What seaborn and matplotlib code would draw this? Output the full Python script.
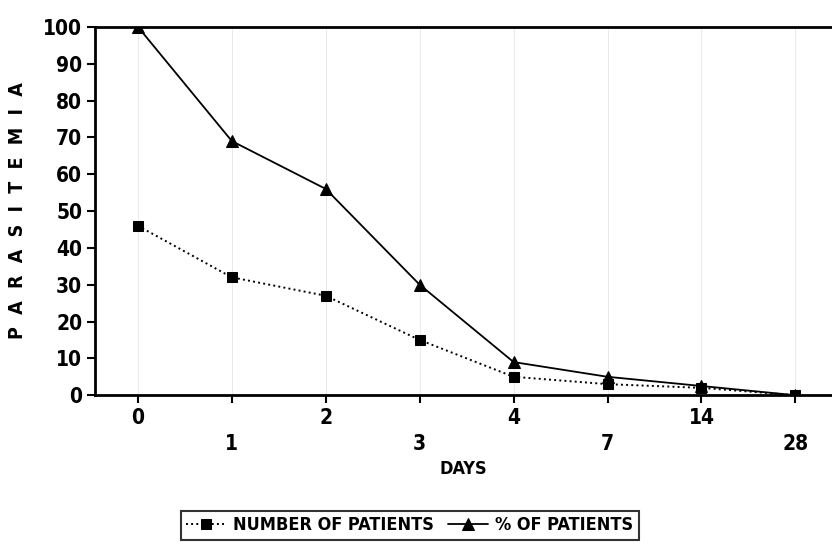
import numpy as np
import pandas as pd
import seaborn as sns
import matplotlib.pyplot as plt

sns.set_theme(style="white")
plt.rcParams['font.family'] = ['DejaVu Sans']
plt.rcParams['font.stretch'] = 'condensed'
plt.rcParams['text.color'] = 'black'
plt.rcParams['xtick.color'] = 'black'
plt.rcParams['ytick.color'] = 'black'
plt.rcParams['axes.labelcolor'] = 'black'

days = ["0", "1", "2", "3", "4", "7", "14", "28"]
number_of_patients = [46, 32, 27, 15, 5, 3, 2, 0]
pct_of_patients = [100, 69, 56, 30, 9, 5, 2.5, 0]

pos = np.arange(len(days))
data = pd.DataFrame({"pos": pos, "number": number_of_patients, "pct": pct_of_patients})

fig = plt.figure(figsize=(8.32, 5.59), dpi=100)
ax = fig.add_axes([0.114, 0.293, 0.886, 0.659])

sns.lineplot(data=data, x="pos", y="number", ax=ax, color="black", linestyle=":",
             linewidth=1.4, marker="s", markersize=7, markeredgecolor="black",
             label="NUMBER OF PATIENTS")
sns.lineplot(data=data, x="pos", y="pct", ax=ax, color="black", linestyle="-",
             linewidth=1.3, marker="^", markersize=9, markeredgecolor="black",
             label="% OF PATIENTS")

ax.set_xlim(-0.458, 7.39)
ax.set_ylim(0, 100)
ax.set_yticks(range(0, 101, 10))
ax.set_yticklabels([str(v) for v in range(0, 101, 10)], fontsize=15, fontweight="bold")
ax.set_xticks(pos)
ax.set_xticklabels([d if i % 2 == 0 else "\n" + d for i, d in enumerate(days)],
                   fontsize=15, fontweight="bold", linespacing=1.4)
ax.tick_params(axis="both", direction="out", length=6, width=1.5, color="black",
               left=True, bottom=True, pad=3)
ax.grid(axis="x", color="#e6e6e6", linewidth=0.6)

for s in ["left", "bottom", "top"]:
    ax.spines[s].set_color("black")
    ax.spines[s].set_linewidth(2)
ax.spines["right"].set_visible(False)

ax.set_xlabel("DAYS", fontsize=13, fontweight="bold", labelpad=4)
ax.set_ylabel("P  A  R  A  S  I  T  E  M  I  A", fontsize=14,
              fontweight="bold", labelpad=12)

leg = ax.legend(loc="upper center", bbox_to_anchor=(0.427, -0.29), ncol=2,
                frameon=True, fancybox=False, edgecolor="black", fontsize=13,
                handlelength=2.2, columnspacing=0.8, borderpad=0.3, handletextpad=0.4)
leg.get_frame().set_linewidth(1.5)
for t in leg.get_texts():
    t.set_fontweight("bold")

fig.savefig("out.png", dpi=100)
